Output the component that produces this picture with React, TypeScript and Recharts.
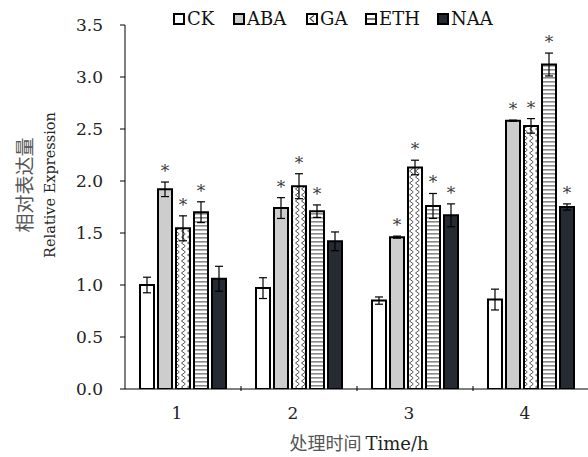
import { Bar, BarChart, ErrorBar, XAxis, YAxis } from "recharts";

const hours = ["1", "2", "3", "4"];

const ck = [1.0, 0.97, 0.85, 0.86];
const ckErr = [0.075, 0.1, 0.035, 0.1];
const aba = [1.92, 1.74, 1.46, 2.58];
const abaErr = [0.07, 0.1, 0.01, 0.005];
const ga = [1.545, 1.95, 2.13, 2.53];
const gaErr = [0.12, 0.12, 0.07, 0.07];
const eth = [1.7, 1.71, 1.76, 3.12];
const ethErr = [0.1, 0.06, 0.12, 0.11];
const naa = [1.06, 1.42, 1.67, 1.75];
const naaErr = [0.12, 0.09, 0.11, 0.03];

// significance marks (*)
const ckSig = [false, false, false, false];
const abaSig = [true, true, true, true];
const gaSig = [true, true, true, true];
const ethSig = [true, true, true, true];
const naaSig = [false, false, true, true];

const yTicks = [0, 0.5, 1.0, 1.5, 2.0, 2.5, 3.0, 3.5];

const SERIF = "DejaVu Serif, Liberation Serif, serif";
const CJK = "Noto Sans CJK SC, sans-serif";

const data = hours.map((hour, i) => ({
  hour,
  CK: ck[i],
  CKErr: ckErr[i],
  ABA: aba[i],
  ABAErr: abaErr[i],
  GA: ga[i],
  GAErr: gaErr[i],
  ETH: eth[i],
  ETHErr: ethErr[i],
  NAA: naa[i],
  NAAErr: naaErr[i],
}));

const series = [
  { key: "CK", fill: "#ffffff", errs: ckErr, sig: ckSig },
  { key: "ABA", fill: "#cdcdcd", errs: abaErr, sig: abaSig },
  { key: "GA", fill: "url(#gaPattern)", errs: gaErr, sig: gaSig },
  { key: "ETH", fill: "url(#ethPattern)", errs: ethErr, sig: ethSig },
  { key: "NAA", fill: "#252a33", errs: naaErr, sig: naaSig },
];

const legendItems = [
  { key: "CK", left: 173 },
  { key: "ABA", left: 233 },
  { key: "GA", left: 306 },
  { key: "ETH", left: 365 },
  { key: "NAA", left: 437 },
];

const PLOT_LEFT = 125;
const PLOT_RIGHT = 589;
const HALF_BAND = (PLOT_RIGHT - PLOT_LEFT) / hours.length / 2;

const starLabel = (errs: number[], sig: boolean[]) => (props: any) => {
  const { x, y, width, height, value, index } = props;
  if (!sig[index] || !value) return null;
  const errPx = (errs[index] * height) / value;
  return (
    <text
      x={x + width / 2}
      y={y - errPx - 5}
      textAnchor="middle"
      fontSize={17}
      fill="#3a3a3a"
      fontFamily={SERIF}
    >
      *
    </text>
  );
};

const HourTick = (props: any) => {
  const { x, y, payload } = props;
  return (
    <g>
      <line x1={x + HALF_BAND} y1={y} x2={x + HALF_BAND} y2={y - 5} stroke="#000" />
      <text x={x - 6} y={y + 16} dy="0.71em" textAnchor="middle" fontSize={17} fill="#222" fontFamily={SERIF}>
        {payload.value}
      </text>
    </g>
  );
};

const LegendIcon = ({ name }: { name: string }) => {
  const fill =
    name === "CK" ? "#fff" : name === "ABA" ? "#cdcdcd" : name === "NAA" ? "#252a33" : "#fff";
  return (
    <svg width={12} height={12} style={{ display: "block" }}>
      <rect x={1} y={1} width={10} height={10} fill={fill} stroke="#000" strokeWidth={2} />
      {name === "GA" && <path d="M8,2.5 L4,5.5 L8,9" stroke="#444" strokeWidth={1.2} fill="none" />}
      {name === "ETH" && <line x1={2} y1={6} x2={10} y2={6} stroke="#444" strokeWidth={1.5} />}
    </svg>
  );
};

export default function App() {
  return (
    <div style={{ position: "absolute", left: 0, top: 0, width: 588, height: 457, overflow: "hidden", background: "#fff" }}>
      {legendItems.map((item) => (
        <div
          key={item.key}
          style={{
            position: "absolute",
            left: item.left,
            top: 8,
            display: "flex",
            alignItems: "center",
            gap: 2,
            fontFamily: SERIF,
            fontSize: 18,
            color: "#111",
            lineHeight: "22px",
          }}
        >
          <LegendIcon name={item.key} />
          <span>{item.key}</span>
        </div>
      ))}
      <BarChart
        width={590}
        height={457}
        data={data}
        margin={{ top: 25, right: 1, bottom: 38, left: 0 }}
        barSize={14}
        barGap={4}
      >
        <defs>
          <pattern id="gaPattern" width={6} height={6} patternUnits="userSpaceOnUse">
            <rect width={6} height={6} fill="#fff" />
            <path d="M5.5,0 L1.5,3 L5.5,6" stroke="#555" strokeWidth={1} fill="none" />
          </pattern>
          <pattern id="ethPattern" width={4} height={4} patternUnits="userSpaceOnUse">
            <rect width={4} height={4} fill="#fff" />
            <rect y={1} width={4} height={1.6} fill="#8a8a8a" />
          </pattern>
        </defs>
        <XAxis
          dataKey="hour"
          height={30}
          axisLine={{ stroke: "#000" }}
          tickLine={false}
          tickSize={0}
          tick={<HourTick />}
          interval={0}
        />
        <YAxis
          width={125}
          domain={[0, 3.5]}
          ticks={yTicks}
          tickFormatter={(v: number) => v.toFixed(1)}
          axisLine={{ stroke: "#000" }}
          tickLine={{ stroke: "#000" }}
          tickSize={5}
          tickMargin={17}
          tick={{ fill: "#222", fontSize: 17, fontFamily: SERIF }}
          allowDataOverflow
        />
        {series.map((s) => (
          <Bar
            key={s.key}
            dataKey={s.key}
            fill={s.fill}
            stroke="#000"
            strokeWidth={2}
            isAnimationActive={false}
            label={starLabel(s.errs, s.sig)}
          >
            <ErrorBar dataKey={`${s.key}Err`} width={4} stroke="#000" strokeWidth={1.2} />
          </Bar>
        ))}
        <text
          transform="translate(23,185) rotate(-90)"
          textAnchor="middle"
          dominantBaseline="central"
          fontSize={19}
          fill="#555"
          fontFamily={CJK}
        >
          相对表达量
        </text>
        <text
          transform="translate(50,185) rotate(-90)"
          textAnchor="middle"
          dominantBaseline="central"
          fontSize={14.5}
          fill="#222"
          fontFamily={SERIF}
        >
          Relative Expression
        </text>
        <text x={359} y={450} textAnchor="middle" fontSize={18} fill="#222">
          <tspan fontFamily={CJK} fill="#555">处理时间 </tspan>
          <tspan fontFamily={SERIF}>Time/h</tspan>
        </text>
      </BarChart>
    </div>
  );
}
